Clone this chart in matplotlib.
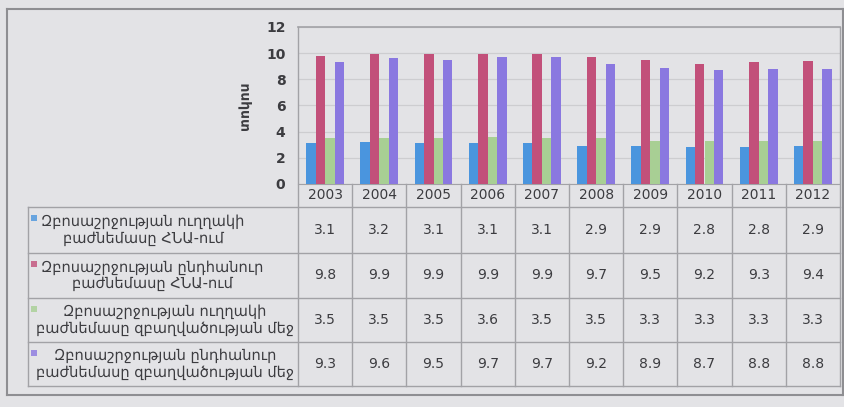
import matplotlib
matplotlib.use("Agg")
import matplotlib.pyplot as plt
import numpy as np
from matplotlib.patches import Rectangle

# data
years = ["2003", "2004", "2005", "2006", "2007", "2008", "2009", "2010", "2011", "2012"]
direct_gdp = [3.1, 3.2, 3.1, 3.1, 3.1, 2.9, 2.9, 2.8, 2.8, 2.9]
total_gdp = [9.8, 9.9, 9.9, 9.9, 9.9, 9.7, 9.5, 9.2, 9.3, 9.4]
direct_emp = [3.5, 3.5, 3.5, 3.6, 3.5, 3.5, 3.3, 3.3, 3.3, 3.3]
total_emp = [9.3, 9.6, 9.5, 9.7, 9.7, 9.2, 8.9, 8.7, 8.8, 8.8]
series_labels = [
    "Զբոսաշրջության ուղղակի\nբաժնեմասը ՀՆԱ-ում",
    "Զբոսաշրջության ընդհանուր\nբաժնեմասը ՀՆԱ-ում",
    "Զբոսաշրջության ուղղակի\nբաժնեմասը զբաղվածության մեջ",
    "Զբոսաշրջության ընդհանուր\nբաժնեմասը զբաղվածության մեջ",
]
y_label = "տոկոս"

series = [direct_gdp, total_gdp, direct_emp, total_emp]
colors = ["#4a95de", "#c2507a", "#a8cf94", "#8a78e0"]

bg = "#e3e3e6"
line_col = "#a2a2a6"
text_col = "#3c3c40"
plt.rcParams["font.family"] = ["DejaVu Sans"]

W, H = 845, 407
fig = plt.figure(figsize=(W / 100, H / 100), dpi=100, facecolor=bg)

def fx(px):
    return px / W

def fy(py):
    return 1 - py / H

# plot area in pixels: x 298..840, y 27 (12) .. 184 (0)
x0, x1, ytop, ybot = 298, 840, 27, 184
ax = fig.add_axes([fx(x0), fy(ybot), fx(x1 - x0), (ybot - ytop) / H])
ax.set_facecolor(bg)

x = np.arange(len(years))
bw = 0.175
for i, (vals, c) in enumerate(zip(series, colors)):
    ax.bar(x + (i - 1.5) * bw, vals, width=bw, color=c, zorder=3)

ax.set_xlim(-0.5, len(years) - 0.5)
ax.set_ylim(0, 12)
ax.set_yticks(range(0, 13, 2))
ax.set_yticklabels([str(v) for v in range(0, 13, 2)], fontsize=10, fontweight="bold", color=text_col)
ax.tick_params(axis="y", length=0, pad=9)
ax.set_xticks([])
ax.grid(axis="y", color="#cdcdd0", linewidth=0.9, zorder=0)
for s in ["left", "right", "top", "bottom"]:
    ax.spines[s].set_color(line_col)
ax.spines["top"].set_linewidth(1.2)
ax.spines["left"].set_visible(False)
ax.spines["right"].set_visible(False)
ax.set_ylabel(y_label, fontsize=10, fontweight="bold", color=text_col, labelpad=10)

# data table under the chart
tr = ax.get_xaxis_transform()
ph = ybot - ytop

def ay(py):
    return (ybot - py) / ph

row_edges = [207, 253, 298, 342, 386]
header_mid = (ybot + row_edges[0]) / 2
for j, yr in enumerate(years):
    ax.text(j, ay(header_mid), yr, transform=tr, ha="center", va="center",
            fontsize=10, color=text_col, clip_on=False)
    for r, vals in enumerate(series):
        ym = (row_edges[r] + row_edges[r + 1]) / 2
        ax.text(j, ay(ym), f"{vals[j]:.1f}", transform=tr, ha="center", va="center",
                fontsize=10, color=text_col, clip_on=False)

# vertical column lines
for k in range(len(years) + 1):
    top = ytop if k in (0, len(years)) else ybot
    ax.plot([k - 0.5, k - 0.5], [ay(top), ay(row_edges[-1])], transform=tr,
            color=line_col, lw=1, clip_on=False)

# horizontal lines across table incl. label column
for yy in row_edges:
    fig.add_artist(plt.Line2D([fx(28), fx(x1)], [fy(yy), fy(yy)], color=line_col, lw=1))
fig.add_artist(plt.Line2D([fx(28), fx(28)], [fy(row_edges[0]), fy(row_edges[-1])], color=line_col, lw=1))

# row labels with colour keys
label_cx = [143, 152, 165, 165]
for r, (lab, c) in enumerate(zip(series_labels, colors)):
    ym = (row_edges[r] + row_edges[r + 1]) / 2
    fig.text(fx(label_cx[r]), fy(ym), lab, ha="center", va="center", fontsize=10.5,
             color=text_col, linespacing=1.1, multialignment="center")
    fig.add_artist(Rectangle((fx(31), fy(row_edges[r] + 14)), fx(6), 6 / H,
                             facecolor=c, edgecolor="none", alpha=0.8))

# outer frame
frame = dict(color="#8e8e92", lw=1.5)
fig.add_artist(plt.Line2D([fx(7), fx(843)], [fy(9), fy(9)], **frame))
fig.add_artist(plt.Line2D([fx(7), fx(7)], [fy(9), fy(395)], **frame))
fig.add_artist(plt.Line2D([fx(7), fx(843)], [fy(395), fy(395)], **frame))
fig.add_artist(plt.Line2D([fx(843), fx(843)], [fy(9), fy(395)], **frame))

fig.savefig("out.png", dpi=100, facecolor=bg)
